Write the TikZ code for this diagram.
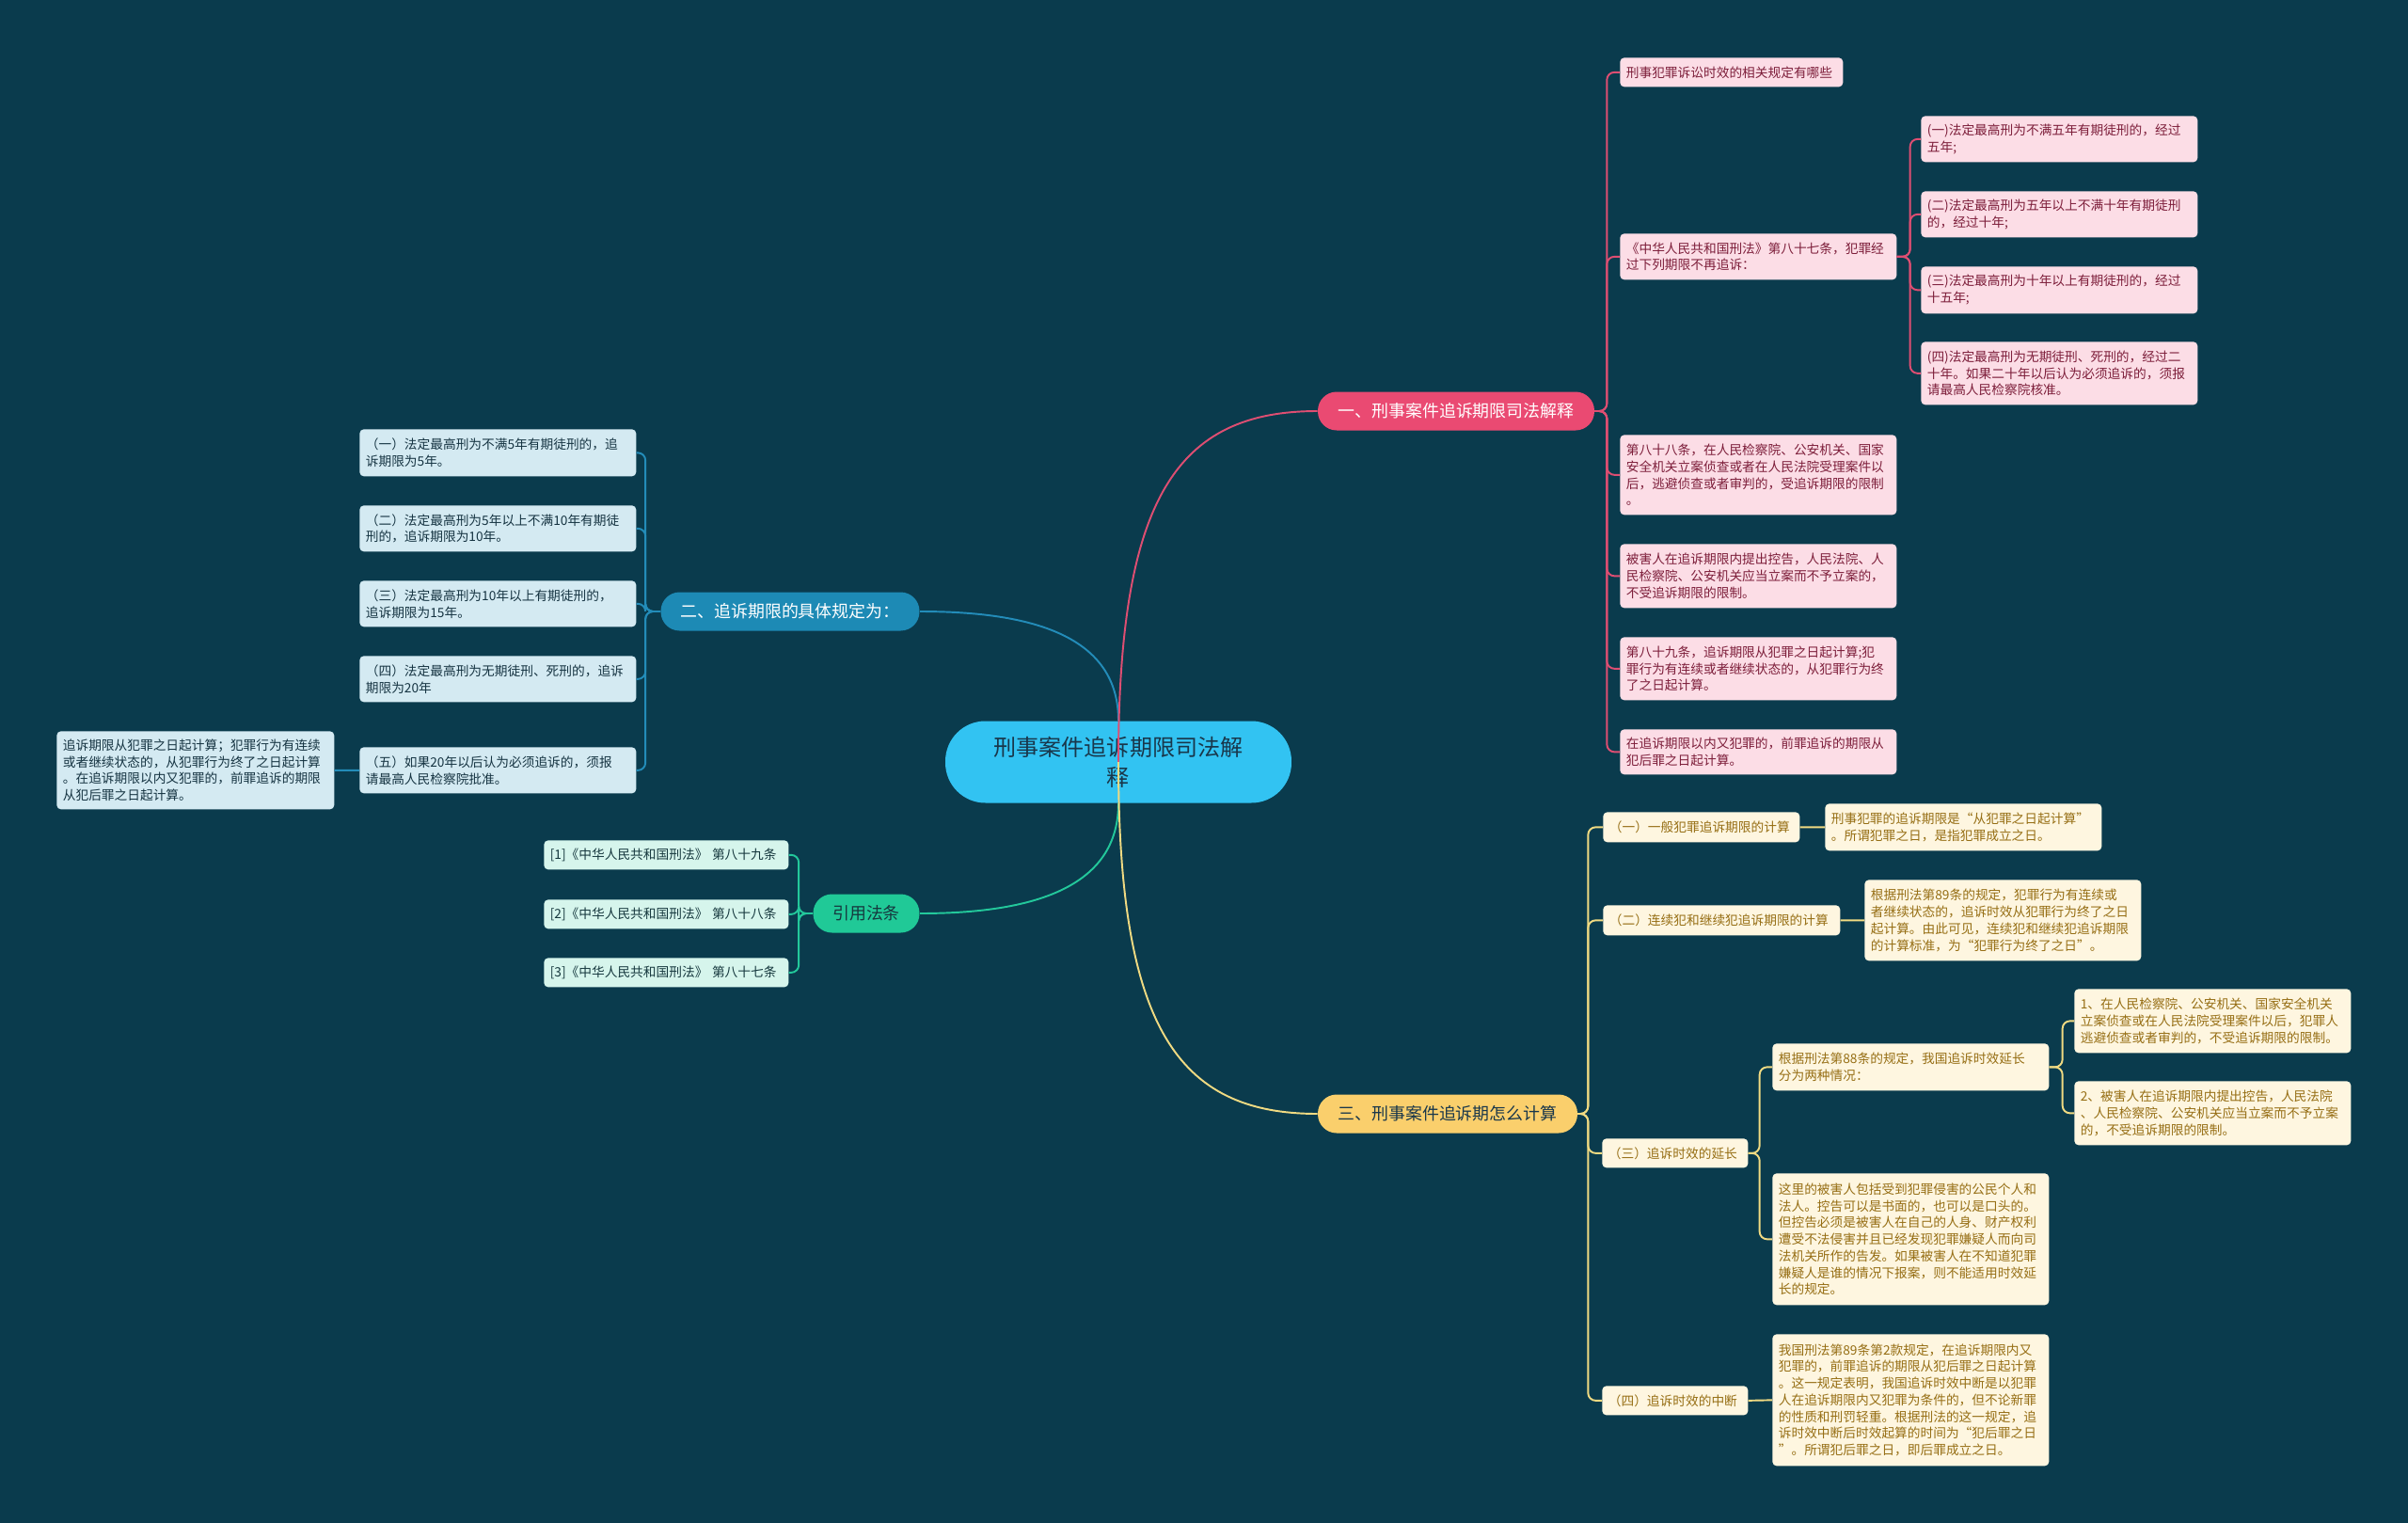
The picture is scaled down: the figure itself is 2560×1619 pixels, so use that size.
\documentclass[tikz,border=0pt]{standalone}
\usepackage{fontspec}
\setmainfont{Noto Sans CJK SC}
\definecolor{bgteal}{RGB}{10,59,77}
\definecolor{rootblue}{RGB}{50,195,242}
\definecolor{rootink}{RGB}{25,55,75}
\definecolor{pinkbr}{RGB}{234,74,114}
\definecolor{pinkline}{RGB}{222,78,114}
\definecolor{pinkfill}{RGB}{252,221,230}
\definecolor{pinkink}{RGB}{125,30,58}
\definecolor{bluebr}{RGB}{29,138,181}
\definecolor{blueline}{RGB}{35,140,185}
\definecolor{bluefill}{RGB}{212,234,242}
\definecolor{blueink}{RGB}{22,52,66}
\definecolor{greenbr}{RGB}{32,201,151}
\definecolor{greenline}{RGB}{35,200,155}
\definecolor{greenfill}{RGB}{214,245,236}
\definecolor{greenink}{RGB}{22,56,62}
\definecolor{yellowbr}{RGB}{250,207,108}
\definecolor{yellowline}{RGB}{240,218,130}
\definecolor{yellowfill}{RGB}{254,246,224}
\definecolor{yellowink}{RGB}{150,110,20}
\usepackage{tikz}

\begin{document}
\begin{tikzpicture}[x=0.02cm, y=-0.02cm,
    root/.style={fill=rootblue, text=rootink, rounded corners=0.85cm,
                 minimum width=7.36cm, minimum height=1.74cm, align=center,
                 font=\fontsize{13.7}{18}\selectfont},
    branch/.style={rounded corners=0.4cm, minimum height=0.82cm, inner sep=0pt,
                   font=\fontsize{10.2}{12}\selectfont},
    leaf/.style={rounded corners=2.5pt, anchor=north west, align=left,
                 inner xsep=0.13cm, inner ysep=0.06cm, font=\fontsize{7.8}{10.1}\selectfont},
    pinkleaf/.style={leaf, fill=pinkfill, text=pinkink},
    blueleaf/.style={leaf, fill=bluefill, text=blueink},
    greenleaf/.style={leaf, fill=greenfill, text=greenink},
    yellowleaf/.style={leaf, fill=yellowfill, text=yellowink},
    pinkln/.style={draw=pinkline, line width=1.1pt, rounded corners=0.16cm},
    blueln/.style={draw=blueline, line width=1.1pt, rounded corners=0.16cm},
    greenln/.style={draw=greenline, line width=1.1pt, rounded corners=0.16cm},
    yellowln/.style={draw=yellowline, line width=1.1pt, rounded corners=0.16cm}
  ]
    \path[use as bounding box, fill=bgteal] (0,0) rectangle (2560,1619);

    % main branches
    \node[branch, fill=pinkbr, text=white, minimum width=5.88cm] (b1) at (1548,437)
      {一、刑事案件追诉期限司法解释};
    \node[branch, fill=bluebr, text=white, minimum width=5.5cm] (b2) at (840,650)
      {二、追诉期限的具体规定为：};
    \node[branch, fill=yellowbr, text=rootink, minimum width=5.52cm] (b3) at (1539,1184)
      {三、刑事案件追诉期怎么计算};
    \node[branch, fill=greenbr, text=greenink, minimum width=2.26cm] (b4) at (921,971)
      {引用法条};

    % branch one
    \node[pinkleaf, text width=4.48cm, minimum height=0.62cm] (p0) at (1722,61)
      {刑事犯罪诉讼时效的相关规定有哪些};
    \node[pinkleaf, text width=5.62cm, minimum height=0.98cm] (p1) at (1722,248)
      {《中华人民共和国刑法》第八十七条，犯罪经\\过下列期限不再追诉：};
    \node[pinkleaf, text width=5.62cm, minimum height=0.98cm] (p1a) at (2042,123)
      {(一)法定最高刑为不满五年有期徒刑的，经过\\五年;};
    \node[pinkleaf, text width=5.62cm, minimum height=0.98cm] (p1b) at (2042,203)
      {(二)法定最高刑为五年以上不满十年有期徒刑\\的，经过十年;};
    \node[pinkleaf, text width=5.62cm, minimum height=1.0cm] (p1c) at (2042,283)
      {(三)法定最高刑为十年以上有期徒刑的，经过\\十五年;};
    \node[pinkleaf, text width=5.62cm, minimum height=1.34cm] (p1d) at (2042,363)
      {(四)法定最高刑为无期徒刑、死刑的，经过二\\十年。如果二十年以后认为必须追诉的，须报\\请最高人民检察院核准。};
    \node[pinkleaf, text width=5.62cm, minimum height=1.7cm] (p2) at (1722,462)
      {第八十八条，在人民检察院、公安机关、国家\\安全机关立案侦查或者在人民法院受理案件以\\后，逃避侦查或者审判的，受追诉期限的限制\\。};
    \node[pinkleaf, text width=5.62cm, minimum height=1.36cm] (p3) at (1722,578)
      {被害人在追诉期限内提出控告，人民法院、人\\民检察院、公安机关应当立案而不予立案的，\\不受追诉期限的限制。};
    \node[pinkleaf, text width=5.62cm, minimum height=1.34cm] (p4) at (1722,677)
      {第八十九条，追诉期限从犯罪之日起计算;犯\\罪行为有连续或者继续状态的，从犯罪行为终\\了之日起计算。};
    \node[pinkleaf, text width=5.62cm, minimum height=0.96cm] (p5) at (1722,775)
      {在追诉期限以内又犯罪的，前罪追诉的期限从\\犯后罪之日起计算。};

    % branch two
    \node[blueleaf, text width=5.62cm, minimum height=1.0cm] (q1) at (382,456)
      {（一）法定最高刑为不满5年有期徒刑的，追\\诉期限为5年。};
    \node[blueleaf, text width=5.62cm, minimum height=0.98cm] (q2) at (382,537)
      {（二）法定最高刑为5年以上不满10年有期徒\\刑的，追诉期限为10年。};
    \node[blueleaf, text width=5.62cm, minimum height=0.98cm] (q3) at (382,617)
      {（三）法定最高刑为10年以上有期徒刑的，\\追诉期限为15年。};
    \node[blueleaf, text width=5.62cm, minimum height=0.98cm] (q4) at (382,697)
      {（四）法定最高刑为无期徒刑、死刑的，追诉\\期限为20年};
    \node[blueleaf, text width=5.62cm, minimum height=0.98cm] (q5) at (382,794)
      {（五）如果20年以后认为必须追诉的，须报\\请最高人民检察院批准。};
    \node[blueleaf, text width=5.64cm, minimum height=1.66cm] (q5a) at (60,777)
      {追诉期限从犯罪之日起计算；犯罪行为有连续\\或者继续状态的，从犯罪行为终了之日起计算\\。在追诉期限以内又犯罪的，前罪追诉的期限\\从犯后罪之日起计算。};

    % cited articles
    \node[greenleaf, text width=4.94cm, minimum height=0.62cm] (c1) at (578,893)
      {[1]《中华人民共和国刑法》 第八十九条};
    \node[greenleaf, text width=4.94cm, minimum height=0.62cm] (c2) at (578,956)
      {[2]《中华人民共和国刑法》 第八十八条};
    \node[greenleaf, text width=4.94cm, minimum height=0.62cm] (c3) at (578,1018)
      {[3]《中华人民共和国刑法》 第八十七条};

    % branch three
    \node[yellowleaf, text width=3.92cm, minimum height=0.64cm] (y1) at (1704,863)
      {（一）一般犯罪追诉期限的计算};
    \node[yellowleaf, text width=5.62cm, minimum height=1.0cm] (y1a) at (1940,854)
      {刑事犯罪的追诉期限是“从犯罪之日起计算”\\。所谓犯罪之日，是指犯罪成立之日。};
    \node[yellowleaf, text width=4.78cm, minimum height=0.64cm] (y2) at (1704,962)
      {（二）连续犯和继续犯追诉期限的计算};
    \node[yellowleaf, text width=5.62cm, minimum height=1.72cm] (y2a) at (1982,935)
      {根据刑法第89条的规定，犯罪行为有连续或\\者继续状态的，追诉时效从犯罪行为终了之日\\起计算。由此可见，连续犯和继续犯追诉期限\\的计算标准，为“犯罪行为终了之日”。};
    \node[yellowleaf, text width=2.84cm, minimum height=0.62cm] (y3) at (1703,1210)
      {（三）追诉时效的延长};
    \node[yellowleaf, text width=5.62cm, minimum height=1.0cm] (y3a) at (1884,1109)
      {根据刑法第88条的规定，我国追诉时效延长\\分为两种情况：};
    \node[yellowleaf, text width=5.62cm, minimum height=1.36cm] (y3a1) at (2205,1051)
      {1、在人民检察院、公安机关、国家安全机关\\立案侦查或在人民法院受理案件以后，犯罪人\\逃避侦查或者审判的，不受追诉期限的限制。};
    \node[yellowleaf, text width=5.62cm, minimum height=1.36cm] (y3a2) at (2205,1149)
      {2、被害人在追诉期限内提出控告，人民法院\\、人民检察院、公安机关应当立案而不予立案\\的，不受追诉期限的限制。};
    \node[yellowleaf, text width=5.62cm, minimum height=2.8cm] (y3b) at (1884,1247)
      {这里的被害人包括受到犯罪侵害的公民个人和\\法人。控告可以是书面的，也可以是口头的。\\但控告必须是被害人在自己的人身、财产权利\\遭受不法侵害并且已经发现犯罪嫌疑人而向司\\法机关所作的告发。如果被害人在不知道犯罪\\嫌疑人是谁的情况下报案，则不能适用时效延\\长的规定。};
    \node[yellowleaf, text width=2.84cm, minimum height=0.62cm] (y4) at (1703,1473)
      {（四）追诉时效的中断};
    \node[yellowleaf, text width=5.62cm, minimum height=2.8cm] (y4a) at (1884,1418)
      {我国刑法第89条第2款规定，在追诉期限内又\\犯罪的，前罪追诉的期限从犯后罪之日起计算\\。这一规定表明，我国追诉时效中断是以犯罪\\人在追诉期限内又犯罪为条件的，但不论新罪\\的性质和刑罚轻重。根据刑法的这一规定，追\\诉时效中断后时效起算的时间为“犯后罪之日\\”。所谓犯后罪之日，即后罪成立之日。};

    % centre
    \node[root] (root) at (1189,810) {刑事案件追诉期限司法解\\释};

    \draw[blueln] (root.north) .. controls +(0,-90) and +(120,0) .. (b2.east);
    \draw[greenln] (root.south) .. controls +(0,90) and +(120,0) .. (b4.east);
    \draw[pinkln] (root.center) .. controls +(0,-280) and +(-150,0) .. (b1.west);
    \draw[yellowln] (root.center) .. controls +(0,280) and +(-150,0) .. (b3.west);

    \draw[pinkln] (b1.east) -- ++(13,0) |- (p0.west);
    \draw[pinkln] (b1.east) -- ++(13,0) |- (p1.west);
    \draw[pinkln] (b1.east) -- ++(13,0) |- (p2.west);
    \draw[pinkln] (b1.east) -- ++(13,0) |- (p3.west);
    \draw[pinkln] (b1.east) -- ++(13,0) |- (p4.west);
    \draw[pinkln] (b1.east) -- ++(13,0) |- (p5.west);
    \draw[pinkln] (p1.east) -- ++(14,0) |- (p1a.west);
    \draw[pinkln] (p1.east) -- ++(14,0) |- (p1b.west);
    \draw[pinkln] (p1.east) -- ++(14,0) |- (p1c.west);
    \draw[pinkln] (p1.east) -- ++(14,0) |- (p1d.west);

    \draw[blueln] (b2.west) -- ++(-16,0) |- (q1.east);
    \draw[blueln] (b2.west) -- ++(-16,0) |- (q2.east);
    \draw[blueln] (b2.west) -- ++(-16,0) |- (q3.east);
    \draw[blueln] (b2.west) -- ++(-16,0) |- (q4.east);
    \draw[blueln] (b2.west) -- ++(-16,0) |- (q5.east);
    \draw[blueln] (q5.west) -- (q5a.east);

    \draw[greenln] (b4.west) -- ++(-15,0) |- (c1.east);
    \draw[greenln] (b4.west) -- ++(-15,0) |- (c2.east);
    \draw[greenln] (b4.west) -- ++(-15,0) |- (c3.east);

    \draw[yellowln] (b3.east) -- ++(11,0) |- (y1.west);
    \draw[yellowln] (b3.east) -- ++(11,0) |- (y2.west);
    \draw[yellowln] (b3.east) -- ++(11,0) |- (y3.west);
    \draw[yellowln] (b3.east) -- ++(11,0) |- (y4.west);
    \draw[yellowln] (y1.east) -- (y1a.west);
    \draw[yellowln] (y2.east) -- (y2a.west);
    \draw[yellowln] (y3.east) -- ++(12,0) |- (y3a.west);
    \draw[yellowln] (y3.east) -- ++(12,0) |- (y3b.west);
    \draw[yellowln] (y3a.east) -- ++(14,0) |- (y3a1.west);
    \draw[yellowln] (y3a.east) -- ++(14,0) |- (y3a2.west);
    \draw[yellowln] (y4.east) -- (y4a.west);
  \end{tikzpicture}
\end{document}
